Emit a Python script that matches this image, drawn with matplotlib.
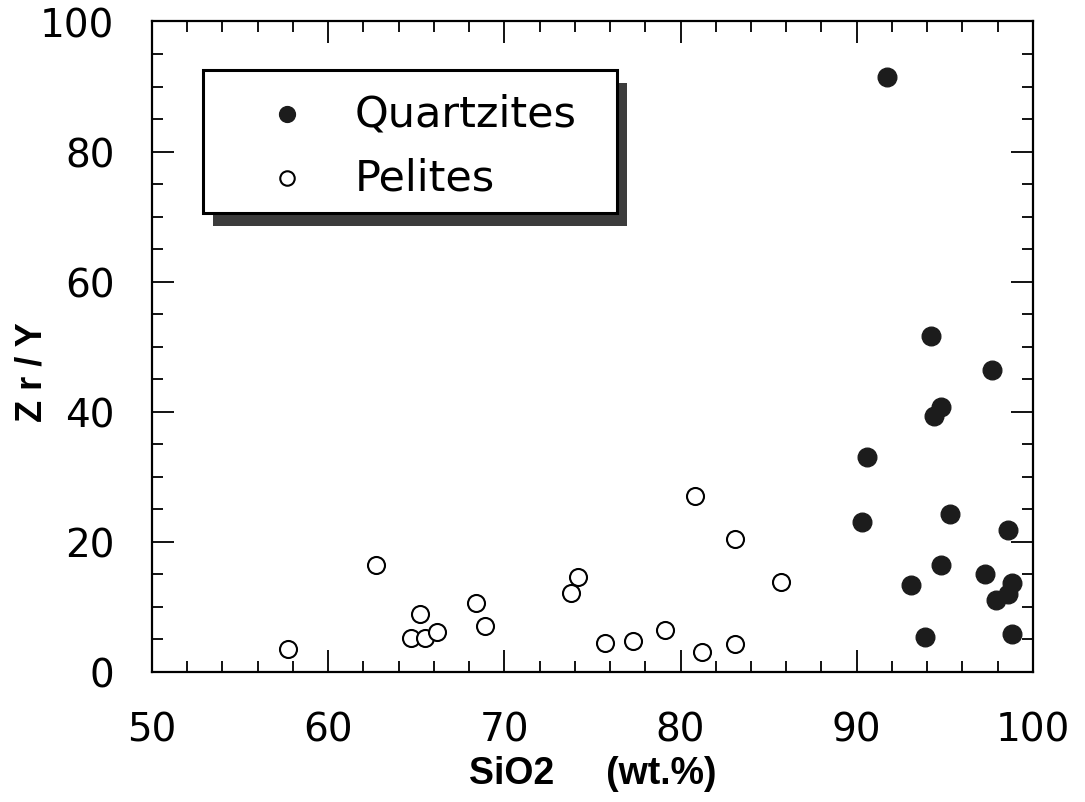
import matplotlib.pyplot as plt
from matplotlib.patches import Rectangle
from matplotlib.ticker import MultipleLocator

# Quartzites (filled)
qtz_sio2 = [91.7, 94.2, 97.7, 94.8, 94.4, 90.6, 90.3, 95.3, 98.6, 94.8, 93.1, 97.3, 98.8, 98.6, 97.9, 93.9, 98.8]
qtz_zry = [91.5, 51.7, 46.4, 40.7, 39.3, 33.0, 23.1, 24.3, 21.8, 16.5, 13.3, 15.1, 13.7, 12.0, 11.1, 5.4, 5.8]

# Pelites (open)
pel_sio2 = [57.7, 62.7, 65.2, 64.7, 65.5, 66.2, 68.4, 68.9, 74.2, 73.8, 75.7, 77.3, 79.1, 80.8, 81.2, 83.1, 83.1, 85.7]
pel_zry = [3.5, 16.5, 8.9, 5.2, 5.2, 6.2, 10.6, 7.0, 14.6, 12.2, 4.4, 4.8, 6.4, 27.1, 3.0, 20.5, 4.3, 13.8]

plt.rcParams['font.family'] = ['DejaVu Sans']

fig = plt.figure(figsize=(10.85, 8.03), dpi=100)
ax = fig.add_axes([0.140, 0.162, 0.812, 0.810])

ax.scatter(qtz_sio2, qtz_zry, s=180, c='#1c1c1c', edgecolors='#1c1c1c', linewidths=1, label='Quartzites', zorder=3)
ax.scatter(pel_sio2, pel_zry, s=150, facecolors='white', edgecolors='black', linewidths=1.5, label='Pelites', zorder=3)

ax.set_xlim(50, 100)
ax.set_ylim(0, 100)
ax.xaxis.set_major_locator(MultipleLocator(10))
ax.xaxis.set_minor_locator(MultipleLocator(2))
ax.yaxis.set_major_locator(MultipleLocator(20))
ax.yaxis.set_minor_locator(MultipleLocator(5))
ax.tick_params(which='both', direction='in', top=True, right=True, width=1.3)
ax.tick_params(which='major', length=16, labelsize=28)
ax.tick_params(which='minor', length=8)
ax.tick_params(axis='x', pad=28)
ax.tick_params(axis='y', pad=27)
for s in ax.spines.values():
    s.set_linewidth(1.6)

lab_font = dict(fontsize=27, fontweight='bold', family='Liberation Sans')
ax.set_xlabel('SiO2     (wt.%)', **lab_font)
ax.set_ylabel('Z r / Y', **dict(lab_font, fontsize=26))
ax.xaxis.set_label_coords(0.5, -0.128)
ax.yaxis.set_label_coords(-0.116, 0.463)

# legend box with shadow
ax.add_patch(Rectangle((0.069, 0.685), 0.470, 0.220, transform=ax.transAxes,
                       facecolor='#3c3c3c', edgecolor='none', zorder=4))
ax.add_patch(Rectangle((0.058, 0.705), 0.470, 0.220, transform=ax.transAxes,
                       facecolor='white', edgecolor='black', linewidth=2.2, zorder=5))
leg = ax.legend(loc='upper left', bbox_to_anchor=(0.129, 0.891), frameon=False,
                fontsize=31, handlelength=1.0, handletextpad=1.08, labelspacing=0.52,
                borderpad=0, borderaxespad=0, markerscale=0.85)
leg.set_zorder(6)

fig.savefig('out.png', dpi=100)
